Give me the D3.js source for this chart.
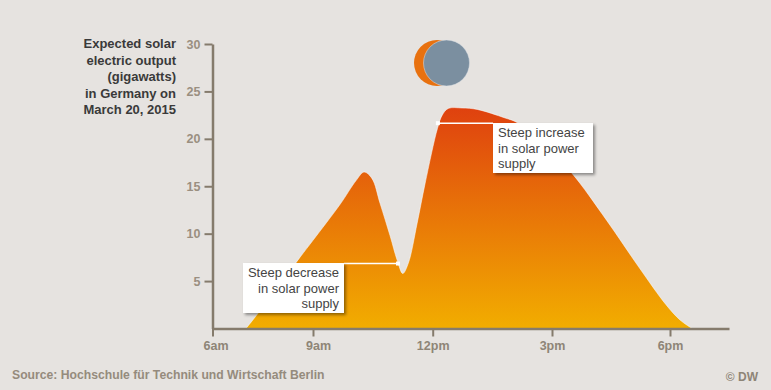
<!DOCTYPE html>
<html>
<head>
<meta charset="utf-8">
<script src="https://cdn.jsdelivr.net/npm/d3@7"></script>
<style>
  html, body { margin: 0; padding: 0; background: #e6e3e0; }
  svg { display: block; }
  text { font-family: "Liberation Sans", Arial, sans-serif; }
</style>
</head>
<body>
<div id="chart"></div>
<script>
// Values: hour of day, gigawatts
const hours = [7.0, 7.36, 8.61, 9.0, 9.68, 10.08, 10.28, 10.48, 10.68, 10.93, 11.11, 11.25, 11.39, 11.61, 11.81, 12.12, 12.24, 12.39, 12.74, 13.12, 13.82, 14.13, 14.83, 15.5, 16.39, 17.22, 17.9, 18.25, 18.55];
const output = [0, 1.6, 7.5, 9.3, 13.1, 15.6, 16.5, 15.8, 13.2, 9.8, 7.2, 5.8, 6.9, 11.1, 15.3, 21.1, 22.5, 23.2, 23.25, 23.1, 22.2, 21.7, 19.2, 16.4, 11.4, 6.4, 2.5, 0.9, 0];

const yTicks = [5, 10, 15, 20, 25, 30];
const xTicks = [6, 9, 12, 15, 18];
const xTickLabels = ["6am", "9am", "12pm", "3pm", "6pm"];

const titleLines = ["Expected solar", "electric output", "(gigawatts)", "in Germany on", "March 20, 2015"];
const decreaseLines = ["Steep decrease", "in solar power", "supply"];
const increaseLines = ["Steep increase", "in solar power", "supply"];

const width = 771;
const height = 390;

const svg = d3.select("#chart")
    .append("svg")
    .attr("width", width)
    .attr("height", height);

// The original axis is not evenly spaced before 9am, so the scale has one knot per tick
const x = d3.scaleLinear()
    .domain([6, 9, 12, 15, 18, 19.47])
    .range([212.5, 313, 432.7, 552, 670, 729]);

const y = d3.scaleLinear()
    .domain([0, 30])
    .range([328.5, 44]);

// Gradient runs from the bottom of the area up to the highest value
const grad = svg.append("defs")
    .append("linearGradient")
    .attr("id", "solar")
    .attr("gradientUnits", "userSpaceOnUse")
    .attr("x1", 0).attr("x2", 0)
    .attr("y1", y(0)).attr("y2", y(d3.max(output)));
grad.append("stop").attr("offset", 0).attr("stop-color", "#f2ad00");
grad.append("stop").attr("offset", 1).attr("stop-color", "#df410f");

const shadow = svg.select("defs").append("filter")
    .attr("id", "shadow")
    .attr("x", "-10%").attr("y", "-10%")
    .attr("width", "125%").attr("height", "130%");
shadow.append("feDropShadow")
    .attr("dx", 2).attr("dy", 2)
    .attr("stdDeviation", 1.5)
    .attr("flood-color", "#000")
    .attr("flood-opacity", 0.4);

// Solar output area
const area = d3.area()
    .x((d, i) => x(hours[i]))
    .y0(y(0))
    .y1(d => y(d))
    .curve(d3.curveCatmullRom.alpha(0.5));

const topLine = d3.line()
    .x((d, i) => x(hours[i]))
    .y(d => y(d))
    .curve(d3.curveCatmullRom.alpha(0.5));

svg.append("path")
    .datum(output)
    .attr("d", area)
    .attr("fill", "url(#solar)");

svg.append("path")
    .datum(output)
    .attr("d", topLine)
    .attr("fill", "none")
    .attr("stroke", "#fff")
    .attr("stroke-opacity", 0.5)
    .attr("stroke-width", 1);

// Axes
const yAxis = svg.append("g")
    .attr("transform", `translate(${x(6)},0)`)
    .call(d3.axisLeft(y).tickValues(yTicks).tickSize(8).tickPadding(4).tickSizeOuter(0));

const xAxis = svg.append("g")
    .attr("transform", `translate(0,${y(0)})`)
    .call(d3.axisBottom(x)
        .tickValues(xTicks)
        .tickSize(8)
        .tickSizeOuter(0)
        .tickPadding(5)
        .tickFormat((d, i) => xTickLabels[i]));

svg.selectAll(".domain")
    .attr("stroke", "#857b6c")
    .attr("stroke-width", 2.5);
svg.selectAll(".tick line")
    .attr("stroke", "#857b6c")
    .attr("stroke-width", 2);
yAxis.selectAll(".tick text")
    .attr("font-size", 12.5)
    .attr("font-weight", "bold")
    .attr("fill", "#9a8f80");
xAxis.selectAll(".tick text")
    .attr("font-size", 12.5)
    .attr("font-weight", "bold")
    .attr("fill", "#8e8577");

// Labels sit a little right of their ticks at the start of the axis
xAxis.selectAll(".tick text")
    .attr("dx", d => d === 6 ? 3 : d === 9 ? 5 : 0);

// Axis title
svg.append("text")
    .attr("text-anchor", "end")
    .attr("font-size", 13)
    .attr("font-weight", "bold")
    .attr("fill", "#3a3a3a")
    .selectAll("tspan")
    .data(titleLines)
    .join("tspan")
    .attr("x", 176)
    .attr("y", (d, i) => 48 + i * 16.6)
    .text(d => d);

// Eclipse: sun behind the moon
svg.append("circle")
    .attr("cx", 437).attr("cy", 63).attr("r", 23)
    .attr("fill", "#e8710f");
svg.append("circle")
    .attr("cx", 446.5).attr("cy", 63).attr("r", 23)
    .attr("fill", "#7b8fa0")
    .attr("stroke", "#dfe3e6")
    .attr("stroke-width", 0.5);

// Callouts: a white leader line from the curve to a box with a shadow
function callout(anchorHour, anchorValue, boxX, boxY, lines, anchor, textX) {
    const ax = x(anchorHour);
    const ay = y(anchorValue);
    const boxW = anchor === "end" ? 101 : 100;
    const edge = ax < boxX ? boxX : boxX + boxW;

    svg.append("line")
        .attr("x1", ax).attr("x2", edge)
        .attr("y1", ay).attr("y2", ay)
        .attr("stroke", "#fff")
        .attr("stroke-width", 1.5);
    svg.append("rect")
        .attr("x", ax - 2).attr("y", ay - 2)
        .attr("width", 4).attr("height", 4)
        .attr("fill", "#fff");
    svg.append("rect")
        .attr("x", boxX).attr("y", boxY)
        .attr("width", boxW).attr("height", 50)
        .attr("fill", "#fff")
        .attr("filter", "url(#shadow)");
    svg.append("text")
        .attr("text-anchor", anchor)
        .attr("font-size", 13)
        .attr("fill", "#444")
        .selectAll("tspan")
        .data(lines)
        .join("tspan")
        .attr("x", textX)
        .attr("y", (d, i) => boxY + 14 + i * 15.5)
        .text(d => d);
}

callout(11.13, 6.85, 243, 263, decreaseLines, "end", 339);
callout(12.13, 21.65, 493, 123, increaseLines, "start", 498);

// Footer
svg.append("text")
    .attr("x", 12).attr("y", 379)
    .attr("font-size", 12.2)
    .attr("font-weight", "bold")
    .attr("fill", "#958b7d")
    .text("Source: Hochschule für Technik und Wirtschaft Berlin");

svg.append("text")
    .attr("x", 758).attr("y", 381)
    .attr("text-anchor", "end")
    .attr("font-size", 12)
    .attr("font-weight", "bold")
    .attr("fill", "#8e8577")
    .text("© DW");
</script>
</body>
</html>
